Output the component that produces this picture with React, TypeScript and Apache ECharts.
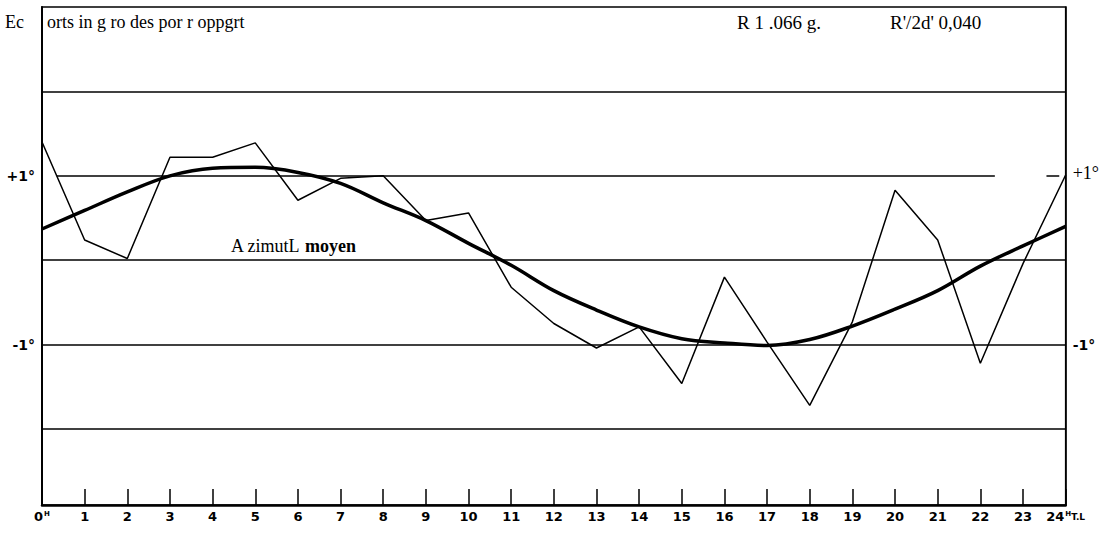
import React, { useEffect, useRef } from "react";
import * as echarts from "echarts";

const hours = [0, 1, 2, 3, 4, 5, 6, 7, 8, 9, 10, 11, 12, 13, 14, 15, 16, 17, 18, 19, 20, 21, 22, 23, 24];
const observed = [1.4, 0.24, 0.02, 1.22, 1.22, 1.39, 0.71, 0.97, 1.0, 0.47, 0.56, -0.32, -0.75, -1.04, -0.79, -1.46, -0.2, -0.97, -1.72, -0.73, 0.83, 0.24, -1.22, -0.04, 1.01];
const meanAzimuth = [0.37, 0.59, 0.81, 1.0, 1.09, 1.1, 1.04, 0.91, 0.68, 0.47, 0.2, -0.06, -0.36, -0.59, -0.79, -0.93, -0.98, -1.01, -0.94, -0.78, -0.58, -0.36, -0.07, 0.17, 0.4];
const fullGridLines = [2, 0, -1, -2];
const titleLeft = "Ec";
const titleMain = "orts in g ro des por r oppgrt";
const titleR = "R 1 .066 g.";
const titleR2 = "R'/2d' 0,040";
const curveLabelA = "A zimutL ";
const curveLabelB = "moyen";

export default function App() {
  const ref = useRef<HTMLDivElement>(null);
  useEffect(() => {
    if (!ref.current) return;
    const chart = echarts.init(ref.current, null, { renderer: "svg" });
    const serif = "'Liberation Serif', 'DejaVu Serif', serif";
    const bold = "'DejaVu Sans', 'Liberation Sans', sans-serif";
    const obsData = hours.map((h, i) => [h, observed[i]]);
    const meanData = hours.map((h, i) => [h, meanAzimuth[i]]);
    const gridLineData: any[] = fullGridLines.map((v) => ({ yAxis: v }));
    gridLineData.push([{ coord: [0.35, 1] }, { coord: [22.34, 1] }]);
    gridLineData.push([{ coord: [23.55, 1] }, { coord: [23.85, 1] }]);
    const topText = (x: number, text: string, size: number) => ({
      type: "text",
      x,
      y: 22,
      style: { text, font: size + "px " + serif, fill: "#000", verticalAlign: "middle", align: "left" },
    });
    chart.setOption({
      animation: false,
      backgroundColor: "#fff",
      grid: {
        left: 42,
        right: 34,
        top: 7,
        bottom: 28,
        show: true,
        borderColor: "#000",
        borderWidth: 1.5,
        backgroundColor: "transparent",
      },
      xAxis: {
        type: "value",
        min: 0,
        max: 24,
        interval: 1,
        splitLine: { show: false },
        axisLine: { show: true, onZero: false, lineStyle: { color: "#000", width: 2.5 } },
        axisTick: { show: true, inside: true, length: 16, lineStyle: { color: "#000", width: 1.5 } },
        axisLabel: {
          margin: 5,
          color: "#000",
          fontFamily: bold,
          fontWeight: "bold",
          fontSize: 13,
          formatter: (v: number) => {
            if (v === 0) return "{n|0}{s|H}";
            if (v === 24) return "{n|24}{s|H}{t|T.L}";
            return "{n|" + v + "}";
          },
          rich: {
            n: { fontFamily: bold, fontWeight: "bold", fontSize: 13, color: "#000" },
            s: { fontFamily: bold, fontWeight: "bold", fontSize: 7, color: "#000", verticalAlign: "top", padding: [0, 0, 6, 1] },
            t: { fontFamily: bold, fontWeight: "bold", fontSize: 9, color: "#000" },
          },
        },
      },
      yAxis: [
        {
          type: "value",
          min: -2.9,
          max: 3,
          splitNumber: 6,
          position: "left",
          splitLine: { show: false },
          axisLine: { show: true, lineStyle: { color: "#000", width: 2 } },
          axisTick: { show: false },
          axisLabel: {
            margin: 7,
            color: "#000",
            fontFamily: bold,
            fontWeight: "bold",
            fontSize: 14,
            showMinLabel: false,
            formatter: (v: number) => (Math.abs(v - 1) < 1e-6 ? "+1°" : Math.abs(v + 1) < 1e-6 ? "-1°" : ""),
          },
        },
        {
          type: "value",
          min: -2.9,
          max: 3,
          splitNumber: 6,
          position: "right",
          splitLine: { show: false },
          axisLine: { show: true, lineStyle: { color: "#000", width: 1.5 } },
          axisTick: { show: false },
          axisLabel: {
            margin: 7,
            color: "#000",
            fontSize: 18,
            fontFamily: serif,
            showMinLabel: false,
            formatter: (v: number) => (Math.abs(v - 1) < 1e-6 ? "{a|+1°}" : Math.abs(v + 1) < 1e-6 ? "{b|-1°}" : ""),
            rich: {
              a: { fontFamily: serif, fontSize: 18, color: "#000", padding: [0, 0, 6, 0] },
              b: { fontFamily: bold, fontWeight: "bold", fontSize: 14, color: "#000" },
            },
          },
        },
      ],
      series: [
        {
          type: "line",
          name: "observed",
          data: obsData,
          showSymbol: false,
          symbol: "none",
          lineStyle: { color: "#000", width: 1.5 },
          silent: true,
          markLine: {
            silent: true,
            symbol: "none",
            label: { show: false },
            lineStyle: { color: "#000", width: 1.5, type: "solid" },
            data: gridLineData,
          },
        },
        {
          type: "line",
          name: "Azimut moyen",
          data: meanData,
          smooth: 0.35,
          showSymbol: false,
          symbol: "none",
          lineStyle: { color: "#000", width: 3.5 },
          silent: true,
        },
      ],
      graphic: [
        topText(5, titleLeft, 18),
        topText(47, titleMain, 18),
        topText(737, titleR, 19),
        topText(890, titleR2, 19),
        {
          type: "text",
          x: 231,
          y: 246,
          style: {
            text: "{a|" + curveLabelA + "}{b|" + curveLabelB + "}",
            verticalAlign: "middle",
            align: "left",
            rich: {
              a: { fontFamily: serif, fontSize: 18, fill: "#000", color: "#000" },
              b: { fontFamily: serif, fontSize: 18, fontWeight: "bold", fill: "#000", color: "#000", letterSpacing: 1 },
            },
          },
        },
      ],
    });
    return () => chart.dispose();
  }, []);
  return (
    <div
      ref={ref}
      style={{ position: "fixed", left: 0, top: 0, width: 1102, height: 533, background: "#fff" }}
    />
  );
}
